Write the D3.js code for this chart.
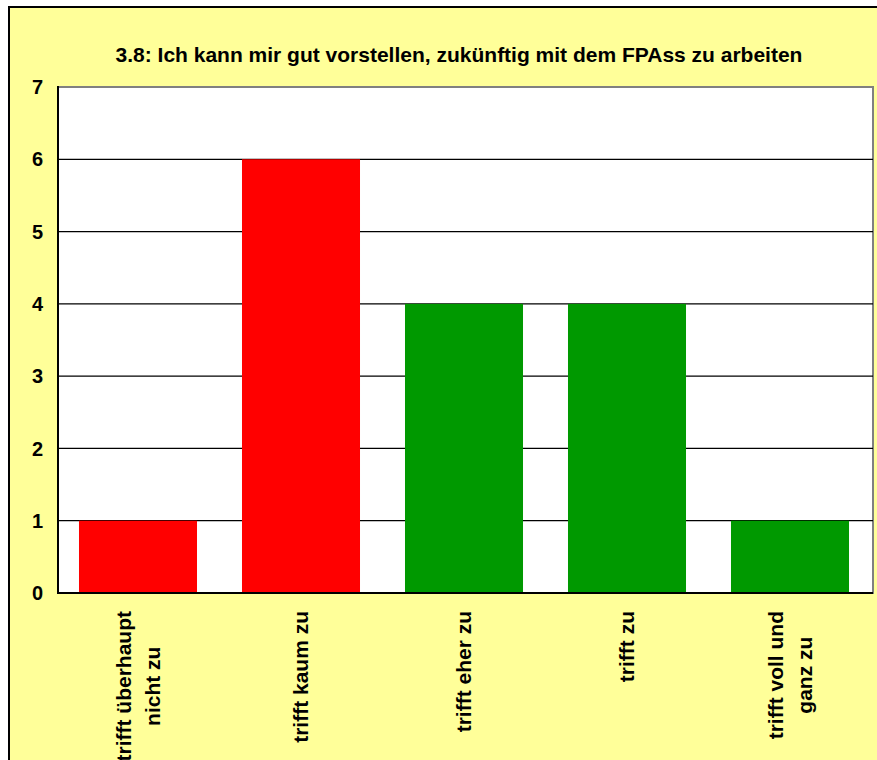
<!DOCTYPE html>
<html><head><meta charset="utf-8">
<script src="https://cdn.jsdelivr.net/npm/d3@7"></script>
<style>body{margin:0;background:#fff}svg{display:block}text{font-family:"Liberation Sans",Arial,sans-serif;font-weight:bold;fill:#000}</style>
</head><body>
<script>
const title = "3.8: Ich kann mir gut vorstellen, zukünftig mit dem FPAss zu arbeiten";
const categories = [["trifft überhaupt","nicht zu"],["trifft kaum zu"],["trifft eher zu"],["trifft zu"],["trifft voll und","ganz zu"]];
const values = [1,6,4,4,1];
const colors = ["#FF0000","#FF0000","#009900","#009900","#009900"];
const yTicks = [0,1,2,3,4,5,6,7];

const W=877,H=760;
const svg=d3.select("body").append("svg").attr("width",W).attr("height",H);
svg.append("rect").attr("x",9).attr("y",7).attr("width",W).attr("height",H).attr("fill","#FFFF99").attr("stroke","#000").attr("stroke-width",2);

const L=58,T=87,R=873,B=593;
const x=d3.scaleBand().domain(d3.range(values.length)).range([L-1.5,R-1.5]).paddingInner(0.276).paddingOuter(0.138);
const y=d3.scaleLinear().domain([0,7]).range([B,T]);

svg.append("rect").attr("x",L).attr("y",T).attr("width",R-L).attr("height",B-T).attr("fill","#fff").attr("stroke","#808080").attr("stroke-width",2);

svg.append("g").selectAll("line").data(yTicks.filter(d=>d>0&&d<7)).join("line")
 .attr("x1",L).attr("x2",R).attr("y1",d=>y(d)).attr("y2",d=>y(d)).attr("stroke","#000").attr("stroke-width",1.3);

svg.append("g").selectAll("rect").data(values).join("rect")
 .attr("x",(d,i)=>x(i)).attr("width",x.bandwidth()).attr("y",d=>y(d)).attr("height",d=>B-y(d)).attr("fill",(d,i)=>colors[i]);

svg.append("line").attr("x1",L).attr("x2",L).attr("y1",T-1).attr("y2",B+1).attr("stroke","#000").attr("stroke-width",2);
svg.append("line").attr("x1",L-1).attr("x2",R).attr("y1",B).attr("y2",B).attr("stroke","#000").attr("stroke-width",2);

svg.append("g").selectAll("text").data(yTicks).join("text")
 .attr("x",43).attr("y",d=>y(d)).attr("dy","0.36em").attr("text-anchor","end").attr("font-size",20).text(d=>d);

svg.append("text").attr("x",459).attr("y",62).attr("text-anchor","middle").attr("font-size",21).text(title);

const lab=svg.append("g");
categories.forEach((lines,i)=>{
  const cx=x(i)+x.bandwidth()/2;
  const g=lab.append("g");
  const ts=lines.map((s,j)=>g.append("text").attr("font-size",21).attr("text-anchor","middle").text(s));
  const maxLen=d3.max(ts,t=>t.node().getComputedTextLength());
  const n=lines.length, lh=29;
  ts.forEach((t,j)=>{
    const off=(j-(n-1)/2)*lh;
    const px=cx+off+7, py=611+maxLen/2;
    t.attr("transform",`translate(${px},${py}) rotate(-90)`);
  });
});
</script>
</body></html>
